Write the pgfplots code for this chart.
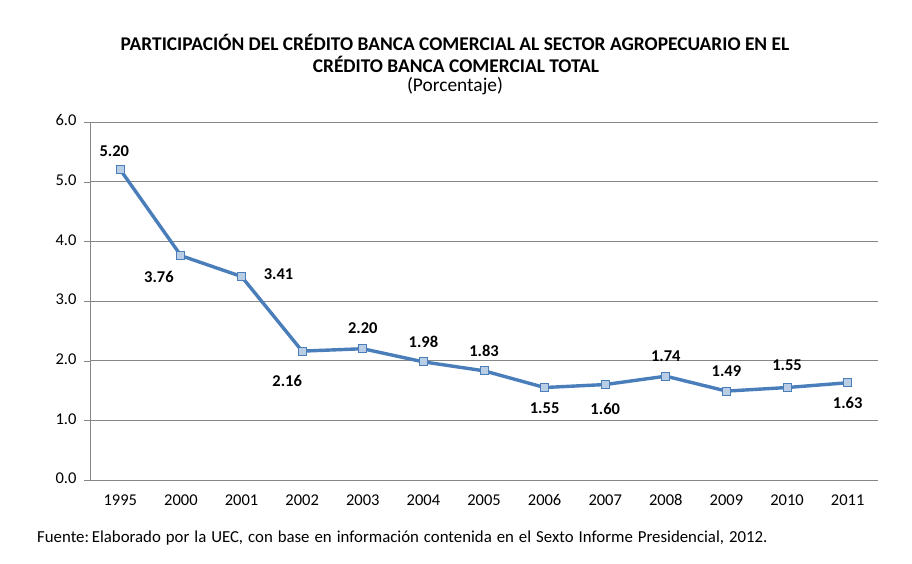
\documentclass[border=0pt]{standalone}
\usepackage{pgfplots}
\pgfplotsset{compat=1.18}
\usepackage{fontspec}
\setmainfont{Carlito}
\definecolor{linec}{RGB}{74,126,187}
\definecolor{markf}{RGB}{185,205,229}
\definecolor{gridc}{RGB}{134,134,134}
\begin{document}
\begin{tikzpicture}
\useasboundingbox (0,0) rectangle (912pt,563pt);
\fill[white] (0,0) rectangle (912pt,563pt);
\node[font=\fontsize{19.4}{22}\selectfont\bfseries] at (455pt,521pt) {PARTICIPACIÓN DEL CRÉDITO BANCA COMERCIAL AL SECTOR AGROPECUARIO EN EL};
\node[font=\fontsize{19.4}{22}\selectfont\bfseries] at (456pt,499pt) {CRÉDITO BANCA COMERCIAL TOTAL};
\node[font=\fontsize{19.4}{22}\selectfont] at (455pt,477pt) {(Porcentaje)};
\node[font=\fontsize{16.8}{19}\selectfont, anchor=west, inner sep=0pt] at (37pt,25pt) {\spaceskip=5pt plus 1pt Fuente:\,Elaborado por la UEC, con base en información contenida en el Sexto Informe Presidencial, 2012.};
\begin{axis}[
  at={(90pt,83pt)}, anchor=south west,
  scale only axis, width=788pt, height=358pt,
  xmin=-0.5, xmax=12.5, ymin=0, ymax=6,
  axis x line*=bottom, axis y line*=left,
  axis line style={gridc},
  xtick={0,...,12},
  xticklabels={1995,2000,2001,2002,2003,2004,2005,2006,2007,2008,2009,2010,2011},
  x tick style={draw=none},
  extra x ticks={-0.5,0.5,1.5,2.5,3.5,4.5,5.5,6.5,7.5,8.5,9.5,10.5,11.5,12.5},
  extra x tick labels={},
  extra x tick style={major tick length=6pt, tick style={gridc,draw=gridc}, tick align=outside, grid=none},
  ytick={0,1,...,6},
  y tick style={gridc},
  tick align=outside, major tick length=6pt,
  ymajorgrids, grid style={gridc, line width=0.8pt},
  y tick label style={/pgf/number format/fixed, /pgf/number format/fixed zerofill, /pgf/number format/precision=1},
  /pgf/number format/assume math mode=true,
  ticklabel style={font=\fontsize{16.5}{19}\selectfont},
  typeset ticklabels with strut,
  xticklabel style={yshift=-3pt},
  yticklabel style={xshift=-4pt},
  clip=false,
]
\addplot[linec, line width=3.4pt, mark=square*, mark size=4pt,
  mark options={fill=markf, draw=linec, line width=0.9pt}]
  coordinates {(0,5.20) (1,3.76) (2,3.41) (3,2.16) (4,2.20) (5,1.98) (6,1.83) (7,1.55) (8,1.60) (9,1.74) (10,1.49) (11,1.55) (12,1.63)};
\tikzset{lab/.style={font=\fontsize{16.5}{19}\selectfont\bfseries}}
\node[lab] at ([shift={(-6pt,19pt)}]axis cs:0,5.20) {5.20};
\node[lab] at ([shift={(-22pt,-21pt)}]axis cs:1,3.76) {3.76};
\node[lab] at ([shift={(37pt,2pt)}]axis cs:2,3.41) {3.41};
\node[lab] at ([shift={(-15pt,-30pt)}]axis cs:3,2.16) {2.16};
\node[lab] at ([shift={(0pt,21pt)}]axis cs:4,2.20) {2.20};
\node[lab] at ([shift={(0pt,20pt)}]axis cs:5,1.98) {1.98};
\node[lab] at ([shift={(0pt,20pt)}]axis cs:6,1.83) {1.83};
\node[lab] at ([shift={(0pt,-21pt)}]axis cs:7,1.55) {1.55};
\node[lab] at ([shift={(0pt,-24pt)}]axis cs:8,1.60) {1.60};
\node[lab] at ([shift={(0pt,20pt)}]axis cs:9,1.74) {1.74};
\node[lab] at ([shift={(0pt,20pt)}]axis cs:10,1.49) {1.49};
\node[lab] at ([shift={(0pt,22pt)}]axis cs:11,1.55) {1.55};
\node[lab] at ([shift={(0pt,-20pt)}]axis cs:12,1.63) {1.63};
\end{axis}
\end{tikzpicture}
\end{document}
